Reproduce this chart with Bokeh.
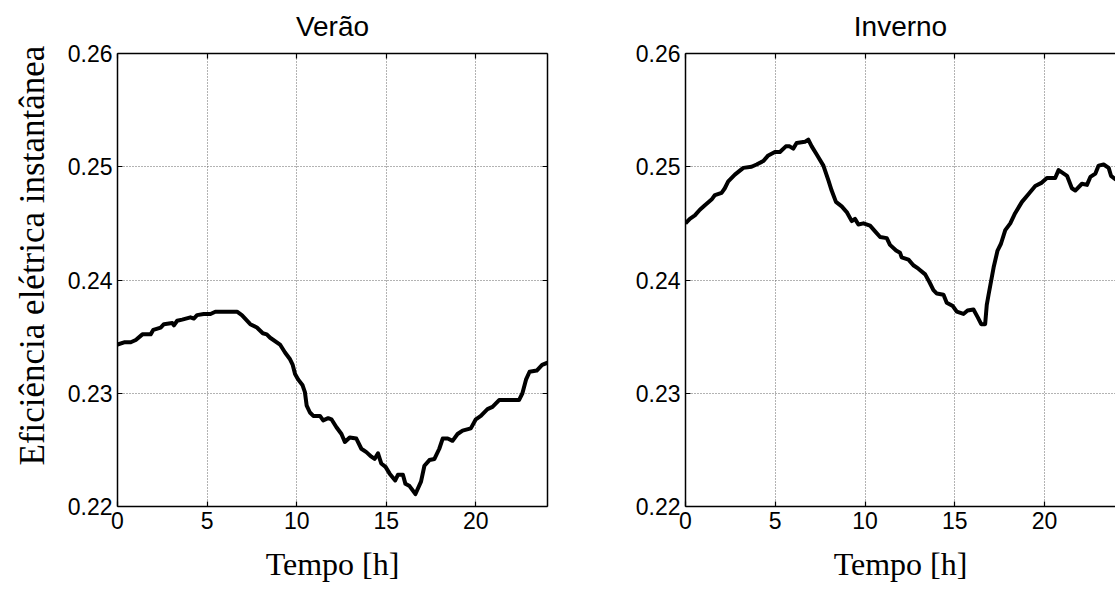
from bokeh.plotting import figure
from bokeh.models import Range1d, FixedTicker, PrintfTickFormatter, LinearAxis, Title
from bokeh.layouts import row
from bokeh.embed import file_html
from bokeh.resources import INLINE

# ---- data ----
verao_h = [0.00, 0.37, 0.74, 1.02, 1.39, 1.85, 2.00, 2.41, 2.59, 3.06, 3.15, 3.33, 3.61, 4.07, 4.26,
           4.44, 4.81, 5.19, 5.46, 6.67, 6.94, 7.41, 7.78, 8.11, 8.33, 8.52, 9.07, 9.35, 9.63, 9.78,
           9.91, 10.09, 10.33, 10.46, 10.56, 10.74, 10.93, 11.30, 11.48, 11.76, 11.94, 12.22, 12.50,
           12.69, 12.96, 13.33, 13.61, 13.89, 14.17, 14.35, 14.54, 14.72, 14.96, 15.19, 15.50, 15.65,
           15.93, 16.07, 16.30, 16.63, 16.94, 17.13, 17.41, 17.69, 17.96, 18.15, 18.43, 18.70, 18.98,
           19.26, 19.72, 20.00, 20.28, 20.65, 20.93, 21.30, 22.41, 22.60, 22.80, 23.00, 23.40, 23.70, 24.00]
verao_v = [0.2343, 0.2345, 0.2345, 0.2347, 0.2352, 0.2352, 0.2356, 0.2358, 0.2361, 0.2362, 0.2360, 0.2364,
           0.2365, 0.2367, 0.2366, 0.2369, 0.2370, 0.2370, 0.2372, 0.2372, 0.2369, 0.2361, 0.2358, 0.2353,
           0.2352, 0.2349, 0.2343, 0.2336, 0.2330, 0.2325, 0.2317, 0.2312, 0.2307, 0.2301, 0.2289, 0.2283,
           0.2280, 0.2280, 0.2276, 0.2278, 0.2277, 0.2270, 0.2264, 0.2257, 0.2261, 0.2260, 0.2251, 0.2248,
           0.2244, 0.2242, 0.2247, 0.2238, 0.2235, 0.2229, 0.2223, 0.2228, 0.2228, 0.2220, 0.2218, 0.2211,
           0.2222, 0.2236, 0.2241, 0.2242, 0.2251, 0.2260, 0.2260, 0.2258, 0.2264, 0.2267, 0.2269, 0.2277,
           0.2280, 0.2286, 0.2288, 0.2294, 0.2294, 0.2300, 0.2312, 0.2319, 0.2320, 0.2325, 0.2327]

inverno_h = [0.00, 0.24, 0.52, 0.80, 1.08, 1.45, 1.64, 2.01, 2.19, 2.38, 2.75, 3.22, 3.68, 3.96, 4.33,
             4.61, 4.98, 5.26, 5.59, 5.80, 6.00, 6.19, 6.65, 6.84, 7.03, 7.30, 7.68, 7.96, 8.14, 8.38,
             8.70, 8.98, 9.26, 9.44, 9.63, 9.91, 10.28, 10.56, 10.84, 11.21, 11.39, 11.73, 11.95, 12.04,
             12.42, 12.69, 12.97, 13.35, 13.59, 13.81, 14.00, 14.37, 14.55, 14.89, 15.11, 15.48, 15.71,
             16.04, 16.28, 16.47, 16.69, 16.78, 16.88, 17.16, 17.38, 17.57, 17.81, 18.09, 18.36, 18.74,
             19.11, 19.48, 19.85, 20.13, 20.59, 20.78, 21.25, 21.52, 21.71, 22.08, 22.36, 22.55, 22.83,
             23.01, 23.29, 23.57, 23.70, 23.94, 24.00]
inverno_v = [0.2450, 0.2454, 0.2457, 0.2462, 0.2466, 0.2471, 0.2475, 0.2477, 0.2481, 0.2487, 0.2493,
             0.2499, 0.2500, 0.2502, 0.2505, 0.2510, 0.2513, 0.2513, 0.2518, 0.2518, 0.2516, 0.2521,
             0.2522, 0.2524, 0.2518, 0.2511, 0.2501, 0.2488, 0.2479, 0.2469, 0.2465, 0.2460, 0.2452,
             0.2454, 0.2449, 0.2450, 0.2448, 0.2443, 0.2438, 0.2437, 0.2431, 0.2426, 0.2424, 0.2420,
             0.2418, 0.2413, 0.2410, 0.2405, 0.2398, 0.2391, 0.2388, 0.2387, 0.2380, 0.2377, 0.2372,
             0.2370, 0.2373, 0.2374, 0.2367, 0.2361, 0.2361, 0.2378, 0.2387, 0.2411, 0.2426, 0.2432,
             0.2444, 0.2450, 0.2459, 0.2469, 0.2476, 0.2483, 0.2486, 0.2490, 0.2490, 0.2497, 0.2492,
             0.2481, 0.2479, 0.2485, 0.2484, 0.2491, 0.2494, 0.2501, 0.2502, 0.2499, 0.2492, 0.2489, 0.2489]

x_ticks = [0, 5, 10, 15, 20]
y_ticks = [0.22, 0.23, 0.24, 0.25, 0.26]
titles = ["Verão", "Inverno"]
x_label = "Tempo [h]"
y_label = "Eficiência elétrica instantânea"

SANS = "Liberation Sans"
SERIF = "Liberation Serif"
H = 589


def style_axis(ax, ticker, labels=True, fmt=None):
    ax.ticker = FixedTicker(ticks=ticker)
    ax.major_tick_in = 5
    ax.major_tick_out = 0
    ax.minor_tick_line_color = None
    ax.axis_line_color = "black"
    ax.axis_line_width = 1.5
    ax.major_tick_line_color = "black"
    ax.major_tick_line_width = 1.2
    if labels:
        ax.major_label_text_font = SANS
        ax.major_label_text_font_size = "23px"
        ax.major_label_text_color = "black"
        ax.major_label_standoff = 5
        if fmt is not None:
            ax.formatter = fmt
    else:
        ax.major_label_text_font_size = "0px"
        ax.major_label_standoff = 0


def make_fig(title, hx, vy, width, bl, br, xend, with_ylabel, with_right):
    p = figure(width=width, height=H, x_range=Range1d(0, xend), y_range=Range1d(0.22, 0.26),
               output_backend="svg", toolbar_location=None, title=title,
               min_border_left=bl, min_border_right=br, min_border_top=53, min_border_bottom=83)
    p.outline_line_color = None
    p.background_fill_color = "white"
    p.border_fill_color = "white"
    p.title.align = "center"
    p.title.vertical_align = "top"
    p.title.text_font = SANS
    p.title.text_font_size = "28px"
    p.title.text_font_style = "normal"
    p.title.text_color = "black"
    p.title.standoff = 20

    p.line(hx, vy, line_color="black", line_width=4, line_join="round")

    style_axis(p.xaxis[0], x_ticks)
    style_axis(p.yaxis[0], y_ticks, fmt=PrintfTickFormatter(format="%.2f"))
    p.xaxis.axis_label = x_label
    p.xaxis.axis_label_text_font = SERIF
    p.xaxis.axis_label_text_font_size = "32px"
    p.xaxis.axis_label_text_font_style = "normal"
    p.xaxis.axis_label_text_color = "black"
    p.xaxis.axis_label_standoff = 14
    if with_ylabel:
        ylab = Title(text=y_label, align="left", offset=41, standoff=22, vertical_align="top",
                     text_font=SERIF, text_font_size="35px", text_font_style="normal",
                     text_color="black")
        p.add_layout(ylab, "left")

    top = LinearAxis()
    style_axis(top, x_ticks, labels=False)
    p.add_layout(top, "above")
    if with_right:
        right = LinearAxis()
        style_axis(right, y_ticks, labels=False)
        p.add_layout(right, "right")

    for g, t in ((p.xgrid, x_ticks), (p.ygrid, y_ticks)):
        g.ticker = FixedTicker(ticks=t)
        g.grid_line_color = "#666666"
        g.grid_line_dash = "1 2"
        g.grid_line_width = 1
    return p


p1 = make_fig(titles[0], verao_h, verao_v, 600, 117, 53, 24, True, True)
p2 = make_fig(titles[1], inverno_h, inverno_v, 515, 85, 0, 23.95, False, False)

layout = row(p1, p2)
open("out.html", "w").write(file_html(layout, INLINE))
